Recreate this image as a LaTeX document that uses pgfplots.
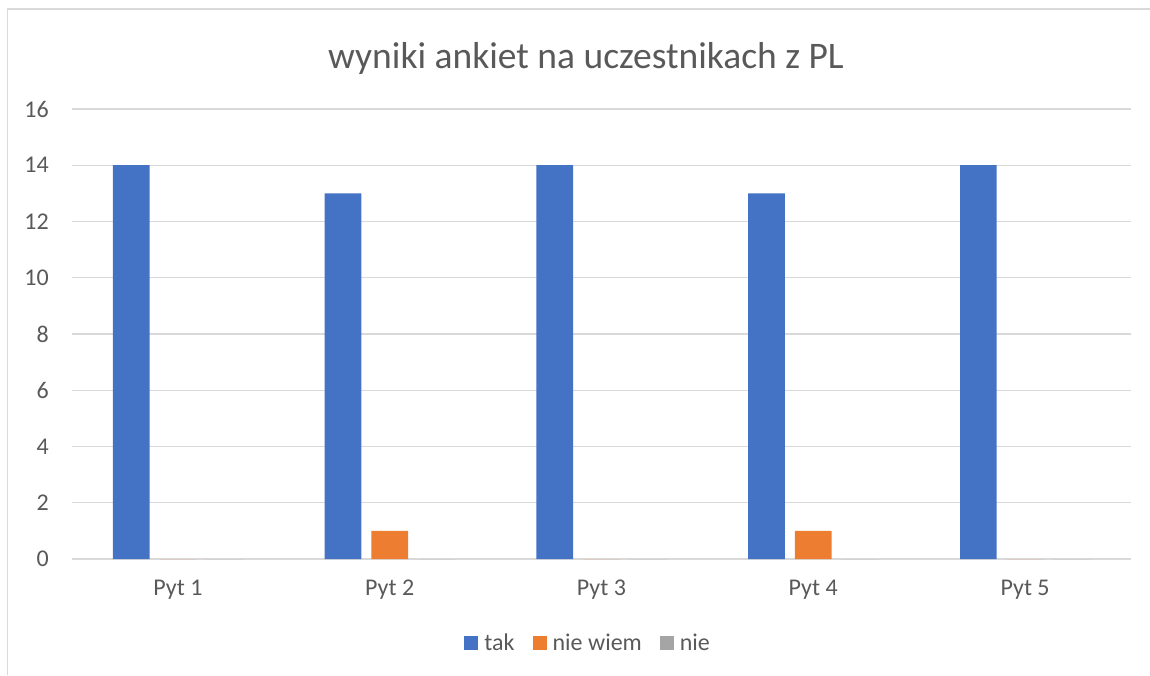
\documentclass[border=0pt]{standalone}
\usepackage{pgfplots}
\pgfplotsset{compat=1.18}
\usepackage{fontspec}
\setmainfont{Carlito}
\definecolor{cblue}{HTML}{4472C4}
\definecolor{corange}{HTML}{ED7D31}
\definecolor{cgray}{HTML}{A5A5A5}
\definecolor{ctext}{HTML}{595959}
\definecolor{cgrid}{HTML}{D9D9D9}
\begin{document}
\begin{tikzpicture}
\path[use as bounding box] (0pt,0pt) rectangle (1150pt,675pt);
\draw[cgrid, line width=1.3pt] (7.5pt,0pt) -- (7.5pt,666pt) -- (1150pt,666pt);
\node[anchor=base, text=ctext, font=\fontsize{37.5}{44}\selectfont] at (586pt,606pt) {wyniki ankiet na uczestnikach z PL};
\begin{axis}[
  at={(72pt,116pt)}, anchor=south west,
  scale only axis, width=1059pt, height=450pt,
  ybar=10pt, bar width=36.7pt,
  xmin=-0.5, xmax=4.5, ymin=0, ymax=16,
  xtick=data, xticklabels={Pyt 1,Pyt 2,Pyt 3,Pyt 4,Pyt 5},
  ytick={0,2,...,16},
  /pgf/number format/assume math mode=true,
  major tick length=0pt,
  axis line style={draw=none},
  ymajorgrids, grid style={cgrid, line width=1.3pt},
  tick label style={text=ctext, font=\fontsize{24}{28}\selectfont},
  yticklabel style={anchor=east, inner sep=0pt, xshift=-23pt},
  xticklabel style={anchor=north, inner sep=0pt, yshift=-21pt},
  legend columns=3,
  legend style={at={(0.487,-0.187)}, anchor=center, draw=none, fill=none,
    font=\fontsize{24}{28}\selectfont, text=ctext,
    /tikz/every odd column/.append style={column sep=5pt},
    /tikz/every even column/.append style={column sep=17pt},
    nodes={inner sep=1pt}},
  legend image code/.code={\fill[#1] (0pt,-7pt) rectangle (14pt,7pt);},
]
\addplot[fill=cblue, draw=none] coordinates {(0,14) (1,13) (2,14) (3,13) (4,14)};
\addplot[fill=corange, draw=none] coordinates {(0,0) (1,1) (2,0) (3,1) (4,0)};
\addplot[fill=cgray, draw=none] coordinates {(0,0) (1,0) (2,0) (3,0) (4,0)};
\legend{tak, nie wiem, nie}
\end{axis}
\end{tikzpicture}
\end{document}
